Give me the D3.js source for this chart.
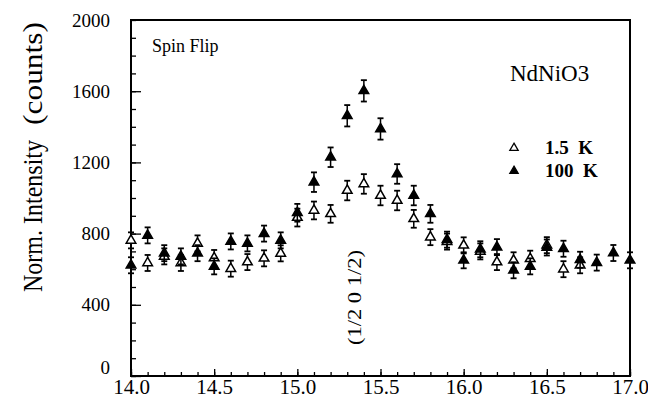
<!DOCTYPE html>
<html>
<head>
<meta charset="utf-8">
<script src="https://cdn.jsdelivr.net/npm/d3@7"></script>
<style>
  body { margin: 0; background: #fff; }
  svg text { font-family: "Liberation Serif", "Times New Roman", serif; fill: #000; }
</style>
</head>
<body>
<svg id="chart" width="648" height="404"></svg>
<script>
var qCold = [14.0, 14.1, 14.2, 14.3, 14.4, 14.5, 14.6, 14.7, 14.8, 14.9, 15.0, 15.1, 15.2, 15.3, 15.4, 15.5,
             15.6, 15.7, 15.8, 15.9, 16.0, 16.1, 16.2, 16.3, 16.4, 16.5, 16.6, 16.7];
var cold  = [762, 635, 672, 635, 745, 663, 603, 640, 661, 689, 890, 930, 911, 1042, 1079, 1014,
             986, 883, 780, 755, 734, 700, 640, 650, 659, 735, 600, 622];
var coldErr = [45, 45, 45, 45, 45, 45, 45, 45, 45, 45, 50, 50, 50, 55, 55, 55,
               55, 50, 45, 45, 45, 45, 45, 45, 45, 45, 45, 45];

var qHot = [14.0, 14.1, 14.2, 14.3, 14.4, 14.5, 14.6, 14.7, 14.8, 14.9, 15.0, 15.1, 15.2, 15.3, 15.4, 15.5,
            15.6, 15.7, 15.8, 15.9, 16.0, 16.1, 16.2, 16.3, 16.4, 16.5, 16.6, 16.7, 16.8, 16.9, 17.0];
var hot  = [622, 790, 690, 672, 690, 616, 756, 745, 800, 762, 917, 1089, 1229, 1462, 1602, 1388,
            1135, 1014, 911, 766, 650, 712, 724, 594, 616, 722, 715, 653, 637, 691, 650];
var hotErr = [45, 45, 45, 45, 45, 45, 45, 45, 45, 45, 50, 55, 55, 60, 60, 60,
              55, 55, 50, 45, 45, 45, 45, 45, 45, 45, 45, 45, 45, 45, 45];

var yTicks = [0, 400, 800, 1200, 1600, 2000];
var xTicks = [14.0, 14.5, 15.0, 15.5, 16.0, 16.5, 17.0];

var svg = d3.select("#chart");
var plotLeft = 131, plotRight = 630, plotTop = 20, plotBottom = 376;

var x = d3.scaleLinear().domain([14, 17]).range([plotLeft, plotRight]);
var y = d3.scaleLinear().domain([0, 2000]).range([plotBottom, plotTop]);

// minor ticks
svg.append("g")
    .attr("transform", "translate(" + plotLeft + ",0)")
    .call(d3.axisLeft(y).ticks(20).tickSizeInner(-5).tickSizeOuter(0).tickFormat(""))
    .call(function (g) { g.select(".domain").remove(); });
svg.append("g")
    .attr("transform", "translate(0," + plotBottom + ")")
    .call(d3.axisBottom(x).ticks(30).tickSizeInner(-4).tickSizeOuter(0).tickFormat(""))
    .call(function (g) { g.select(".domain").remove(); });

// major ticks + labels
var yAxis = svg.append("g")
    .attr("transform", "translate(" + plotLeft + ",0)")
    .call(d3.axisLeft(y).tickValues(yTicks).tickSizeInner(-10).tickSizeOuter(0).tickPadding(21)
        .tickFormat(d3.format("d")));
yAxis.select(".domain").remove();
yAxis.selectAll("text").attr("font-size", 19).style("font-family", "Liberation Serif");
yAxis.selectAll(".tick").filter(function (d) { return d === 0; }).select("text").attr("dy", "-0.15em");
yAxis.selectAll(".tick").filter(function (d) { return d === 2000; }).select("line").remove();

var xAxis = svg.append("g")
    .attr("transform", "translate(0," + plotBottom + ")")
    .call(d3.axisBottom(x).tickValues(xTicks).tickSizeInner(-7).tickSizeOuter(0).tickPadding(3)
        .tickFormat(d3.format(".1f")));
xAxis.select(".domain").remove();
xAxis.selectAll("text").attr("font-size", 21).style("font-family", "Liberation Serif");

svg.selectAll(".tick line").attr("stroke", "#000").attr("stroke-width", 1.3);

// frame
svg.append("rect")
    .attr("x", plotLeft).attr("y", plotTop)
    .attr("width", plotRight - plotLeft).attr("height", plotBottom - plotTop)
    .attr("fill", "none").attr("stroke", "#000").attr("stroke-width", 2);

function drawSeries(qs, vals, errs, filled) {
    var g = svg.append("g");
    var pts = g.selectAll("g.pt")
        .data(qs.map(function (q, i) { return {q: q, v: vals[i], e: errs[i]}; }))
        .enter().append("g").attr("class", "pt");
    pts.append("line")
        .attr("x1", function (d) { return x(d.q); })
        .attr("x2", function (d) { return x(d.q); })
        .attr("y1", function (d) { return y(d.v - d.e); })
        .attr("y2", function (d) { return y(d.v + d.e); })
        .attr("stroke", "#000").attr("stroke-width", 1.5);
    [1, -1].forEach(function (s) {
        pts.append("line")
            .attr("x1", function (d) { return x(d.q) - 3; })
            .attr("x2", function (d) { return x(d.q) + 3; })
            .attr("y1", function (d) { return y(d.v + s * d.e); })
            .attr("y2", function (d) { return y(d.v + s * d.e); })
            .attr("stroke", "#000").attr("stroke-width", 1.8);
    });
    pts.append("path")
        .attr("d", d3.symbol(d3.symbolTriangle, 40))
        .attr("transform", function (d) { return "translate(" + x(d.q) + "," + y(d.v) + ")"; })
        .attr("fill", filled ? "#000" : "#fff")
        .attr("stroke", "#000").attr("stroke-width", 1.5);
}

drawSeries(qCold, cold, coldErr, false);
drawSeries(qHot, hot, hotErr, true);

// annotations
svg.append("text").attr("x", 152).attr("y", 52).attr("font-size", 18).text("Spin Flip");
svg.append("text").attr("x", 510).attr("y", 81).attr("font-size", 23).text("NdNiO3");

svg.append("text")
    .attr("transform", "translate(361,345) rotate(-90)")
    .attr("font-size", 19)
    .attr("textLength", 95).attr("lengthAdjust", "spacingAndGlyphs")
    .text("(1/2 0 1/2)");

svg.append("text")
    .attr("transform", "translate(42,292) rotate(-90)")
    .attr("font-size", 27)
    .attr("textLength", 152).attr("lengthAdjust", "spacingAndGlyphs")
    .text("Norm. Intensity");
svg.append("text")
    .attr("transform", "translate(42,125) rotate(-90)")
    .attr("font-size", 27)
    .attr("textLength", 103).attr("lengthAdjust", "spacingAndGlyphs")
    .text("(counts)");

// legend
var legend = [{label: "1.5  K", filled: false, y: 154}, {label: "100  K", filled: true, y: 177}];
legend.forEach(function (d) {
    svg.append("path")
        .attr("d", d3.symbol(d3.symbolTriangle, 30))
        .attr("transform", "translate(514," + (d.y - 6) + ")")
        .attr("fill", d.filled ? "#000" : "#fff")
        .attr("stroke", "#000").attr("stroke-width", 1.3);
    svg.append("text").attr("x", 545).attr("y", d.y)
        .attr("font-size", 19).attr("font-weight", "bold")
        .style("white-space", "pre")
        .text(d.label);
});
</script>
</body>
</html>
